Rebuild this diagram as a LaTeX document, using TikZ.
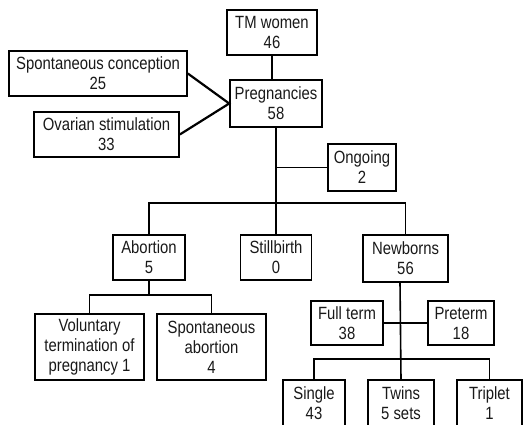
\documentclass[tikz,border=0pt]{standalone}
\usepackage{fontspec}
\setmainfont{Liberation Sans}[FakeStretch=0.84]
\begin{document}
\begin{tikzpicture}[x=1pt,y=-1pt,
  box/.style={draw,line width=1.6pt,inner sep=0pt,align=center,
    font=\fontsize{17.7}{20}\selectfont,text=black!90},
  conn/.style={line width=1.6pt},
  thick conn/.style={line width=2.2pt}]
\useasboundingbox (0,0) rectangle (530,424);
\node[box,minimum width=90pt,minimum height=45pt] (tm) at (272,32.5) {TM women\\46};
\node[box,minimum width=178pt,minimum height=45pt] (sc) at (98,73.5) {Spontaneous conception\\25};
\node[box,minimum width=92pt,minimum height=47pt] (preg) at (276,103.5) {Pregnancies\\58};
\node[box,minimum width=145pt,minimum height=45pt] (ov) at (106.5,134.5) {Ovarian stimulation\\33};
\node[box,minimum width=68pt,minimum height=47pt] (ong) at (362,167.5) {Ongoing\\2};
\node[box,minimum width=72pt,minimum height=45pt] (abo) at (149,257.5) {Abortion\\5};
\node[box,minimum width=71pt,minimum height=45pt] (still) at (276,257.5) {Stillbirth\\0};
\node[box,minimum width=85pt,minimum height=47pt] (newb) at (405.5,258.5) {Newborns\\56};
\node[box,minimum width=109pt,minimum height=66pt] (vol) at (89.5,347) {Voluntary\\termination of\\pregnancy 1};
\node[box,minimum width=109pt,minimum height=66pt] (sab) at (211.5,347) {Spontaneous\\abortion\\4};
\node[box,minimum width=72pt,minimum height=44pt] (ft) at (347,323) {Full term\\38};
\node[box,minimum width=66pt,minimum height=44pt] (pt) at (461,323) {Preterm\\18};
\node[box,minimum width=62pt,minimum height=46pt] (single) at (314,403) {Single\\43};
\node[box,minimum width=66pt,minimum height=46pt] (twins) at (401,403) {Twins\\5 sets};
\node[box,minimum width=65pt,minimum height=46pt] (trip) at (489.5,403) {Triplet\\1};
% connectors
\draw[conn] (tm.south) -- (tm.south |- preg.north);
\draw[thick conn] (sc.east) -- (preg.west) -- (ov.east);
\draw[conn] (preg.south) -- (still.north);
\draw[conn] (preg.south |- ong.west) -- (ong.west);
\coordinate (b1) at (276,203);
\draw[conn] (abo.north) |- (b1) -| (newb.north);
\coordinate (b2) at (149,295);
\draw[conn] (abo.south) -- (b2);
\draw[conn] (vol.north) |- (b2) -| (sab.north);
\coordinate (ns) at (400,282);
\coordinate (b3) at (400,359);
\draw[conn] (ns) -- (twins.north);
\draw[conn] (ft.east) -- (pt.west);
\draw[conn] (single.north) |- (b3) -| (trip.north);
\end{tikzpicture}
\end{document}
